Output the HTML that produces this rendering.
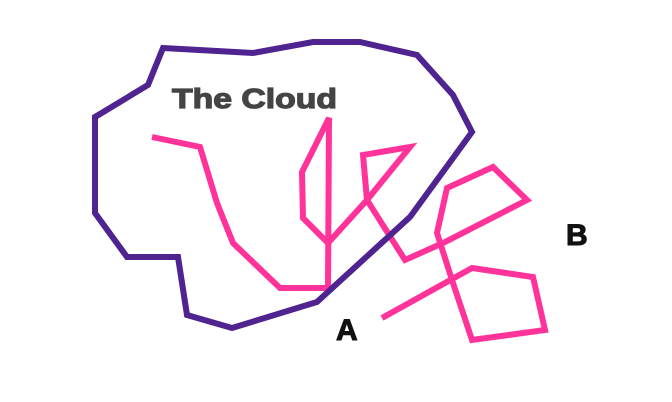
<!DOCTYPE html>
<html><head><style>
html,body{margin:0;padding:0;background:#fff;width:672px;height:402px;overflow:hidden}
</style></head><body>
<svg width="672" height="402" viewBox="0 0 672 402" xmlns="http://www.w3.org/2000/svg">
<polyline fill="none" stroke="#ff3399" stroke-width="6" stroke-linejoin="miter" points="152,137 200,147 217,203 233,243 280,288 328,288 329,118 302,172 303,218 328,243 367,200 410,147 363,155 367,200 405,260 443,243 527,200 493,167 447,188 437,233 453,283 472,340 545,330 533,277 472,268 382,318"/>
<polygon fill="none" stroke="#4f2390" stroke-width="6" stroke-linejoin="miter" points="163,48 253,53 313,42 360,42 417,55 453,95 472,132 410,217 317,302 232,328 187,315 178,257 127,257 95,213 95,117 148,85"/>
<text x="172" y="108" font-family="Liberation Sans, sans-serif" font-weight="bold" font-size="28" fill="#444" stroke="#444" stroke-width="1.2" textLength="165" lengthAdjust="spacingAndGlyphs">The Cloud</text>
<text x="336" y="340" font-family="Liberation Sans, sans-serif" font-weight="bold" font-size="30" fill="#111" stroke="#111" stroke-width="1">A</text>
<text x="566" y="245" font-family="Liberation Sans, sans-serif" font-weight="bold" font-size="30" fill="#111" stroke="#111" stroke-width="1">B</text>
</svg>
</body></html>
